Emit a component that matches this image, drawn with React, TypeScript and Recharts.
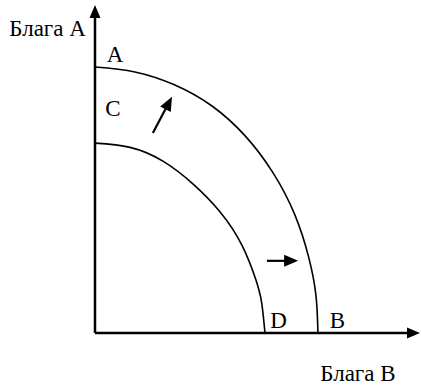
import { LineChart, Line, XAxis, YAxis, ReferenceLine, ReferenceDot } from "recharts";

// values in chart units (x: Блага В, y: Блага А)
const outerFrontier = [
  { x: 0, y: 8.11 },
  { x: 1.23, y: 7.96 },
  { x: 2.46, y: 7.56 },
  { x: 3.6, y: 6.92 },
  { x: 4.62, y: 6.01 },
  { x: 5.48, y: 4.88 },
  { x: 6.15, y: 3.6 },
  { x: 6.58, y: 2.29 },
  { x: 6.8, y: 1.13 },
  { x: 6.86, y: 0 },
];

const innerFrontier = [
  { x: 0, y: 5.79 },
  { x: 1.08, y: 5.66 },
  { x: 2.09, y: 5.24 },
  { x: 3.02, y: 4.54 },
  { x: 3.85, y: 3.69 },
  { x: 4.52, y: 2.68 },
  { x: 4.95, y: 1.62 },
  { x: 5.13, y: 0.91 },
  { x: 5.23, y: 0 },
];

const axisLines = [
  { from: { x: 0, y: 0 }, to: { x: 10, y: 0 } },
  { from: { x: 0, y: 0 }, to: { x: 0, y: 10 } },
];

const shiftArrows = [
  { from: { x: 1.78, y: 6.1 }, to: { x: 2.37, y: 7.2 } },
  { from: { x: 5.29, y: 2.2 }, to: { x: 6.25, y: 2.2 } },
];

const pointLabels = [
  { text: "A", x: 0.62, y: 8.51 },
  { text: "C", x: 0.55, y: 6.88 },
  { text: "D", x: 5.65, y: 0.41 },
  { text: "B", x: 7.46, y: 0.41 },
];

const axisTitles = [
  { text: "Блага А", x: -1.46, y: 9.31 },
  { text: "Блага В", x: 8.09, y: -1.22 },
];

const FONT = "'Liberation Serif', 'Times New Roman', serif";

function arrowShape(headLen: number, headW: number, width: number) {
  return (props: any) => {
    const { x1, y1, x2, y2 } = props;
    const dx = x2 - x1;
    const dy = y2 - y1;
    const len = Math.sqrt(dx * dx + dy * dy) || 1;
    const ux = dx / len;
    const uy = dy / len;
    const bx = x2 - ux * headLen;
    const by = y2 - uy * headLen;
    const px = -uy * (headW / 2);
    const py = ux * (headW / 2);
    return (
      <g>
        <line x1={x1} y1={y1} x2={bx + ux} y2={by + uy} stroke="#000" strokeWidth={width} />
        <polygon points={`${x2},${y2} ${bx + px},${by + py} ${bx - px},${by - py}`} fill="#000" />
      </g>
    );
  };
}

export default function App() {
  return (
    <div style={{ position: "absolute", left: 0, top: 0, background: "#fff" }}>
      <LineChart width={421} height={385} margin={{ top: 5, right: 1, left: 95, bottom: 52 }}>
        <XAxis type="number" dataKey="x" domain={[0, 10]} hide />
        <YAxis type="number" dataKey="y" domain={[0, 10]} hide />
        <Line
          data={outerFrontier}
          dataKey="y"
          type="natural"
          stroke="#000"
          strokeWidth={1.6}
          dot={false}
          isAnimationActive={false}
        />
        <Line
          data={innerFrontier}
          dataKey="y"
          type="natural"
          stroke="#000"
          strokeWidth={1.6}
          dot={false}
          isAnimationActive={false}
        />
        {axisLines.map((a, i) => (
          <ReferenceLine
            key={`axis-${i}`}
            segment={[a.from, a.to]}
            ifOverflow="visible"
            shape={arrowShape(13, 11, 2.5)}
          />
        ))}
        {shiftArrows.map((a, i) => (
          <ReferenceLine
            key={`shift-${i}`}
            segment={[a.from, a.to]}
            ifOverflow="visible"
            shape={arrowShape(14, 12, 2.2)}
          />
        ))}
        {[...pointLabels, ...axisTitles].map((l, i) => (
          <ReferenceDot
            key={`lbl-${i}`}
            x={l.x}
            y={l.y}
            r={0}
            fill="none"
            stroke="none"
            ifOverflow="visible"
            label={{
              value: l.text,
              position: "center",
              fill: "#000",
              fontSize: 23,
              fontFamily: FONT,
            }}
          />
        ))}
      </LineChart>
    </div>
  );
}
